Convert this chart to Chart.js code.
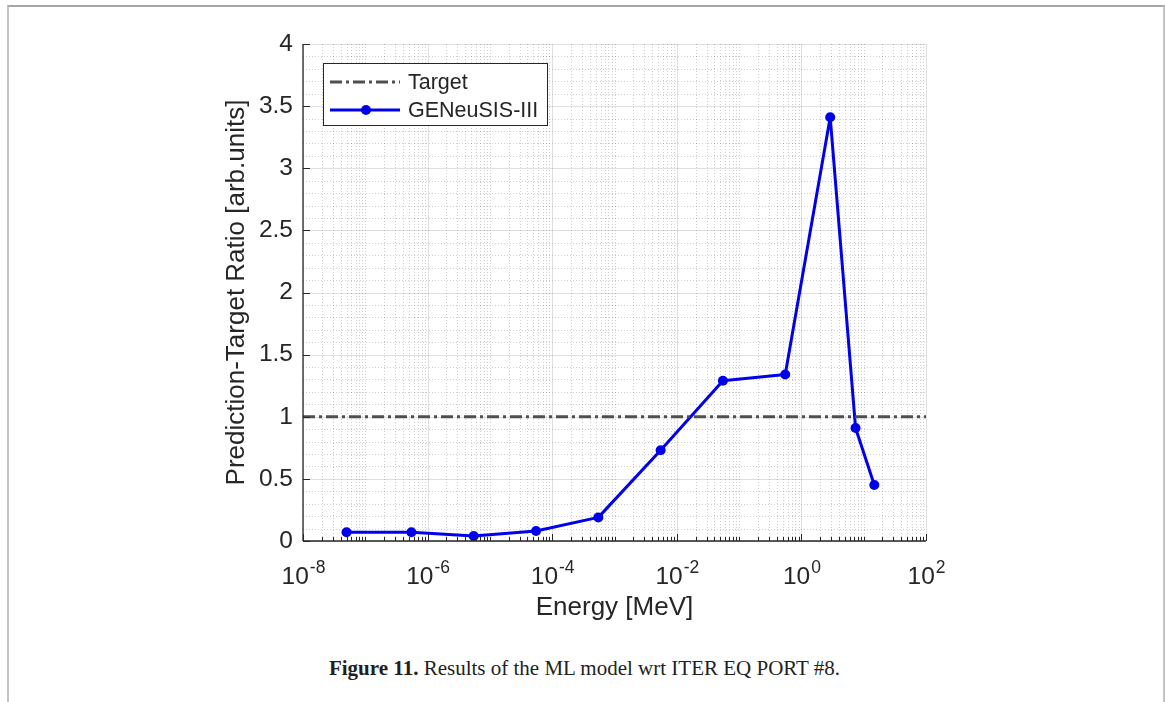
<!DOCTYPE html>
<html>
<head>
<meta charset="utf-8">
<script src="https://cdn.jsdelivr.net/npm/chart.js@4.4.1/dist/chart.umd.min.js"></script>
<style>
    body { margin: 0; background: #fff; width: 1165px; height: 702px; overflow: hidden; position: relative; }
    .frame { position: absolute; left: 7px; top: 5px; width: 1158px; height: 720px; box-sizing: border-box;
             border: 2px solid #c4c4c4; border-top-color: #a6a6a6; }
    .chart-box { position: absolute; left: 0; top: 0; width: 1165px; height: 640px; }
    .caption { position: absolute; left: 0; top: 656px; width: 1169px; text-align: center;
               font-family: "Liberation Serif", serif; font-size: 21px; line-height: 24px; color: #231f20; }
</style>
</head>
<body>
<div class="frame"></div>
<div class="chart-box"><canvas id="ratioChart"></canvas></div>
<div class="caption"><b>Figure 11.</b> Results of the ML model wrt ITER EQ PORT #8.</div>

<script>
//! ========================== Data ==========================
const energy = [5e-8, 5.5e-7, 5.5e-6, 5.5e-5, 5.5e-4, 5.5e-3, 5.5e-2, 0.55, 2.9, 7.4, 14.8];
const ratio = [0.07, 0.07, 0.04, 0.08, 0.19, 0.73, 1.29, 1.34, 3.41, 0.91, 0.45];
const targetEnergy = [1e-8, 1e2];
const targetRatio = [1, 1];
const seriesLabels = ['Target', 'GENeuSIS-III'];
const xTickExponents = [-8, -6, -4, -2, 0, 2];
const yTicks = [0, 0.5, 1, 1.5, 2, 2.5, 3, 3.5, 4];

const axisColor = '#262626';
const fontFamily = '"Liberation Sans", Arial, sans-serif';

//! ===================== Grid + axes (MATLAB look) =====================
function hLine(ctx, x1, x2, y) {
    ctx.beginPath(); ctx.moveTo(x1, y); ctx.lineTo(x2, y); ctx.stroke();
}
function vLine(ctx, x, y1, y2) {
    ctx.beginPath(); ctx.moveTo(x, y1); ctx.lineTo(x, y2); ctx.stroke();
}

function minorXValues() {
    const vals = [];
    const first = xTickExponents[0], last = xTickExponents[xTickExponents.length - 1];
    for (let e = first; e < last; e++) {
        for (let k = 1; k <= 9; k++) {
            if (k === 1 && xTickExponents.includes(e)) continue;
            vals.push(k * Math.pow(10, e));
        }
    }
    return vals;
}

function minorYValues() {
    const vals = [];
    for (let i = 0; i < yTicks.length - 1; i++) {
        const step = (yTicks[i + 1] - yTicks[i]) / 5;
        for (let j = 1; j < 5; j++) vals.push(yTicks[i] + j * step);
    }
    return vals;
}

const matlabGrid = {
    id: 'matlabGrid',
    beforeDatasetsDraw(chart) {
        const { ctx, chartArea: a, scales: { x, y } } = chart;
        ctx.save();
        ctx.lineWidth = 1;

        // minor grid, dotted
        ctx.strokeStyle = 'rgba(38,38,38,0.22)';
        ctx.setLineDash([1, 2]);
        minorXValues().forEach(v => vLine(ctx, Math.round(x.getPixelForValue(v)) + 0.5, a.top, a.bottom));
        minorYValues().forEach(v => hLine(ctx, a.left, a.right, Math.round(y.getPixelForValue(v)) + 0.5));

        // major grid, solid
        ctx.setLineDash([]);
        ctx.strokeStyle = 'rgba(38,38,38,0.15)';
        xTickExponents.forEach(e => vLine(ctx, Math.round(x.getPixelForValue(Math.pow(10, e))) + 0.5, a.top, a.bottom));
        yTicks.forEach(v => hLine(ctx, a.left, a.right, Math.round(y.getPixelForValue(v)) + 0.5));
        ctx.restore();
    },
    afterDatasetsDraw(chart) {
        const { ctx, chartArea: a, scales: { x, y } } = chart;
        ctx.save();
        ctx.strokeStyle = axisColor;
        ctx.lineWidth = 1.3;
        hLine(ctx, a.left, a.right, a.bottom);
        vLine(ctx, a.left, a.top, a.bottom);

        // inward tick marks
        ctx.lineWidth = 1;
        minorXValues().forEach(v => {
            const px = Math.round(x.getPixelForValue(v)) + 0.5;
            vLine(ctx, px, a.bottom, a.bottom - 4);
        });
        xTickExponents.forEach(e => {
            const px = Math.round(x.getPixelForValue(Math.pow(10, e))) + 0.5;
            vLine(ctx, px, a.bottom, a.bottom - 7);
        });
        yTicks.forEach(v => {
            const py = Math.round(y.getPixelForValue(v)) + 0.5;
            hLine(ctx, a.left, a.left + 7, py);
        });
        ctx.restore();
    }
};

//! ===================== x tick labels 10^n =====================
const powerLabels = {
    id: 'powerLabels',
    afterDraw(chart) {
        const { ctx, chartArea: a, scales: { x } } = chart;
        ctx.save();
        ctx.fillStyle = axisColor;
        ctx.textBaseline = 'alphabetic';
        xTickExponents.forEach(e => {
            const px = x.getPixelForValue(Math.pow(10, e));
            const base = '10', sup = String(e);
            ctx.font = '24.5px ' + fontFamily;
            const wb = ctx.measureText(base).width;
            ctx.font = '17.5px ' + fontFamily;
            const ws = ctx.measureText(sup).width;
            const left = px - (wb + ws) / 2;
            ctx.font = '24.5px ' + fontFamily;
            ctx.fillText(base, left, a.bottom + 43);
            ctx.font = '17.5px ' + fontFamily;
            ctx.fillText(sup, left + wb + 1, a.bottom + 32);
        });
        ctx.restore();
    }
};

//! ========================= Legend box =========================
const legendBox = {
    id: 'legendBox',
    afterDraw(chart) {
        const { ctx, chartArea: a } = chart;
        const bx = a.left + 20, by = a.top + 19, bw = 224, bh = 62;
        ctx.save();
        ctx.fillStyle = '#fff';
        ctx.fillRect(bx, by, bw, bh);
        ctx.strokeStyle = axisColor;
        ctx.lineWidth = 1;
        ctx.strokeRect(bx + 0.5, by + 0.5, bw, bh);

        chart.data.datasets.forEach((ds, i) => {
            const ly = by + 19 + i * 28;
            ctx.strokeStyle = ds.borderColor;
            ctx.lineWidth = ds.borderWidth;
            ctx.setLineDash(ds.borderDash || []);
            hLine(ctx, bx + 7, bx + 77, ly);
            ctx.setLineDash([]);
            if (ds.pointRadius) {
                ctx.fillStyle = ds.backgroundColor;
                ctx.beginPath();
                ctx.arc(bx + 43, ly, ds.pointRadius, 0, Math.PI * 2);
                ctx.fill();
            }
            ctx.fillStyle = axisColor;
            ctx.font = '21.5px ' + fontFamily;
            ctx.textBaseline = 'middle';
            ctx.fillText(ds.label, bx + 85, ly + 1);
        });
        ctx.restore();
    }
};

//! ============================ Chart ============================
const blue = 'rgb(0, 0, 235)';

new Chart(document.getElementById('ratioChart'), {
    type: 'line',
    data: {
        datasets: [
            {
                label: seriesLabels[0],
                data: targetEnergy.map((e, i) => ({ x: e, y: targetRatio[i] })),
                borderColor: '#4f4f4f',
                borderWidth: 3,
                borderDash: [12, 4, 3, 4],
                pointRadius: 0
            },
            {
                label: seriesLabels[1],
                data: energy.map((e, i) => ({ x: e, y: ratio[i] })),
                borderColor: blue,
                backgroundColor: blue,
                borderWidth: 3,
                borderJoinStyle: 'round',
                pointRadius: 5,
                pointBorderWidth: 0,
                pointHoverRadius: 5
            }
        ]
    },
    options: {
        responsive: true,
        maintainAspectRatio: false,
        animation: false,
        layout: { padding: { left: 210, right: 239, top: 44, bottom: 10 } },
        plugins: { legend: { display: false }, tooltip: { enabled: false } },
        scales: {
            x: {
                type: 'logarithmic',
                min: 1e-8,
                max: 1e2,
                grid: { display: false },
                border: { display: false },
                ticks: { display: false },
                afterBuildTicks: s => { s.ticks = xTickExponents.map(e => ({ value: Math.pow(10, e) })); },
                afterFit: s => { s.height = 89; },
                title: {
                    display: true, text: 'Energy [MeV]', color: axisColor,
                    font: { family: fontFamily, size: 26 }, padding: { top: 0, bottom: 7 }
                }
            },
            y: {
                min: 0,
                max: 4,
                grid: { display: false, drawTicks: false },
                border: { display: false },
                afterBuildTicks: s => { s.ticks = yTicks.map(v => ({ value: v })); },
                afterFit: s => { s.width = 93; },
                ticks: {
                    padding: 10, color: axisColor,
                    font: { family: fontFamily, size: 24.5 },
                    callback: v => String(v)
                },
                title: {
                    display: true, text: 'Prediction-Target Ratio [arb.units]', color: axisColor,
                    font: { family: fontFamily, size: 26 }, padding: { top: 11, bottom: 0 }
                }
            }
        }
    },
    plugins: [matlabGrid, powerLabels, legendBox]
});
</script>
</body>
</html>
